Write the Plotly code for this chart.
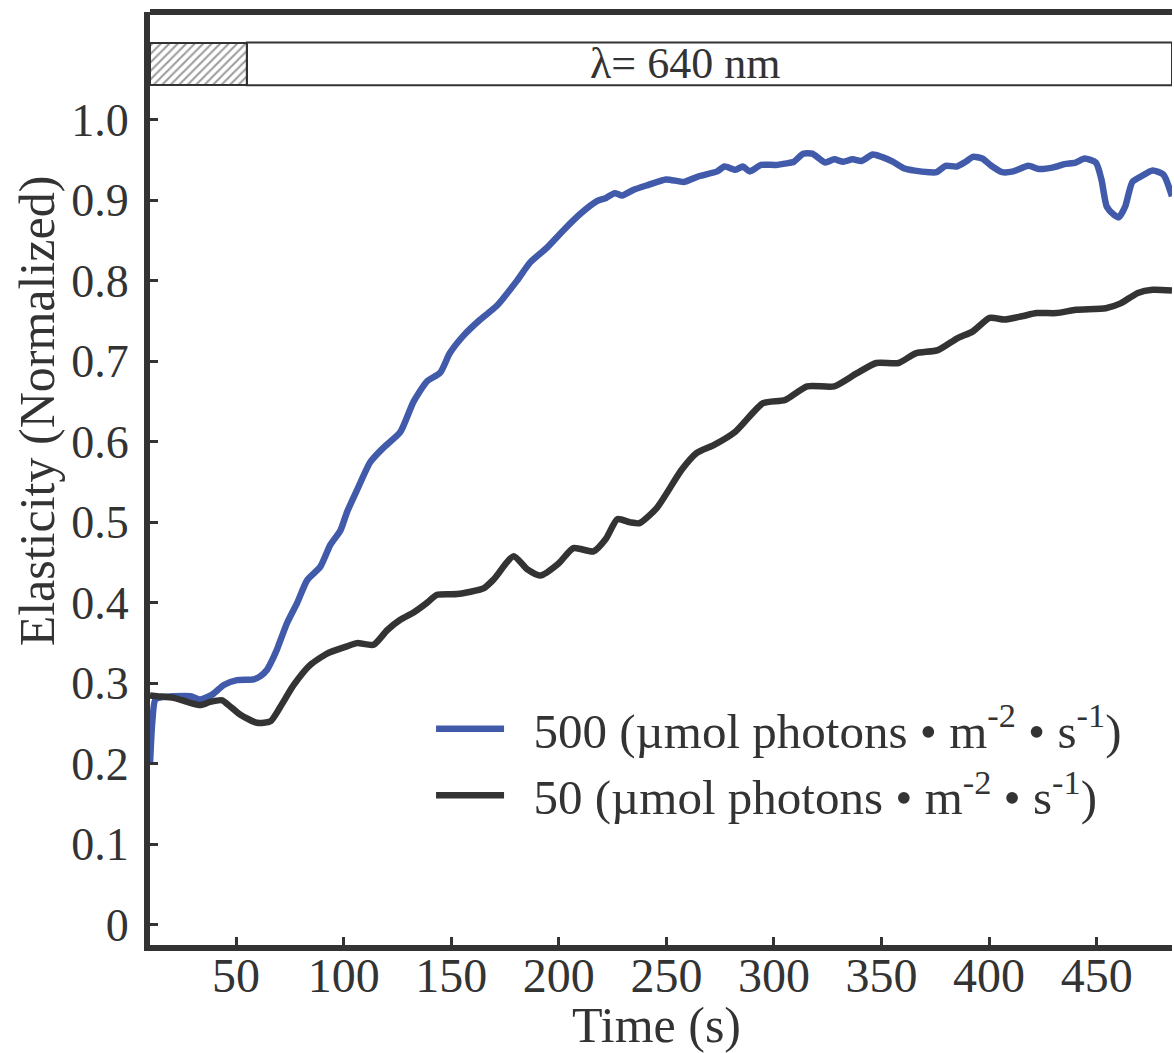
import plotly.graph_objects as go

# ---------------- data ----------------
t500 = [
    10, 11, 12.5, 16, 21, 28.8, 33.4, 38.9, 44.3, 50.5,
    58.2, 61.3, 64.4, 67.5, 69, 73.7, 78.4, 83, 89.2, 93.8,
    98.5, 101.6, 106.2, 112.4, 118.6, 126.3, 132.5, 138.7, 144.9, 149.3,
    155.7, 163.5, 171.2, 180.5, 186.7, 194.4, 202.2, 209.9, 217.7, 222,
    226, 229.4, 234.6, 241.3, 249.8, 258.3, 265.1, 273.6, 277, 282.1,
    285.5, 288.8, 294, 300.8, 305.9, 309.3, 313.6, 317.8, 323.8, 328,
    332.2, 336.5, 340.7, 345.9, 350.1, 355.2, 360.3, 365.4, 372.2, 375.5,
    379.8, 384.9, 389.1, 392.5, 396.8, 401, 406.1, 411.2, 418.2, 423.1,
    429.9, 435, 440.2, 444.4, 449.6, 452.2, 454.7, 458.1, 460.3, 463.2,
    466.6, 470.8, 476, 481, 485,
]
v500 = [
    0.20, 0.25, 0.28, 0.283, 0.284, 0.284, 0.280, 0.286, 0.298, 0.304,
    0.305, 0.309, 0.317, 0.333, 0.342, 0.375, 0.40, 0.428, 0.445, 0.472,
    0.49, 0.513, 0.54, 0.575, 0.593, 0.612, 0.65, 0.675, 0.686, 0.71,
    0.732, 0.752, 0.769, 0.80, 0.823, 0.841, 0.863, 0.883, 0.899, 0.903,
    0.909, 0.906, 0.913, 0.919, 0.926, 0.923, 0.93, 0.936, 0.942, 0.938,
    0.942, 0.936, 0.944, 0.944, 0.946, 0.948, 0.958, 0.958, 0.947, 0.951,
    0.948, 0.951, 0.949, 0.957, 0.954, 0.948, 0.94, 0.937, 0.935, 0.935,
    0.943, 0.942, 0.948, 0.954, 0.952, 0.943, 0.935, 0.936, 0.943, 0.939,
    0.941, 0.945, 0.947, 0.952, 0.947, 0.926, 0.892, 0.882, 0.879, 0.892,
    0.923, 0.930, 0.937, 0.932, 0.905,
]
t50 = [
    10, 13.3, 21, 27.3, 33.4, 38, 43.5, 47.4, 52, 59.8,
    66, 70.6, 76.8, 84.5, 92.3, 101.6, 106.2, 113.9, 120.2, 126.3,
    132.5, 138.7, 143.4, 152.7, 165, 169.7, 179, 185.2, 191.4, 199.9,
    206.8, 216.1, 222, 227.2, 233.2, 237.5, 245.6, 257, 264, 272,
    282.2, 294.9, 305.2, 315.4, 328, 338.4, 347.6, 357.9, 365.9, 376.2,
    385.4, 392.3, 400.3, 407.2, 415.2, 422.1, 431.3, 440.4, 454.2, 461.1,
    469.1, 476, 485,
]
v50 = [
    0.285, 0.284, 0.282, 0.277, 0.273, 0.277, 0.279, 0.271, 0.261, 0.251,
    0.253, 0.271, 0.298, 0.323, 0.337, 0.346, 0.350, 0.348, 0.366, 0.379,
    0.388, 0.40, 0.41, 0.411, 0.418, 0.429, 0.458, 0.442, 0.434, 0.449,
    0.468, 0.464, 0.48, 0.504, 0.50, 0.499, 0.518, 0.565, 0.586, 0.596,
    0.613, 0.648, 0.652, 0.669, 0.669, 0.685, 0.698, 0.698, 0.71, 0.714,
    0.729, 0.737, 0.754, 0.752, 0.756, 0.76, 0.76, 0.764, 0.766, 0.772,
    0.785, 0.789, 0.788,
]
series_names = [
    "500 (\u00b5mol photons \u2022 m<sup>-2</sup> \u2022 s<sup>-1</sup>)",
    "50 (\u00b5mol photons \u2022 m<sup>-2</sup> \u2022 s<sup>-1</sup>)",
]
x_tickvals = [50, 100, 150, 200, 250, 300, 350, 400, 450]
y_tickvals = [0, 0.1, 0.2, 0.3, 0.4, 0.5, 0.6, 0.7, 0.8, 0.9, 1.0]
y_ticktext = ["0", "0.1", "0.2", "0.3", "0.4", "0.5", "0.6", "0.7", "0.8", "0.9", "1.0"]
x_title = "Time (s)"
y_title = "Elasticity (Normalized)"
dark_period = [10, 55]        # hatched (dark) interval, s
light_period = [55, 485]      # illuminated interval, s
light_label = "\u03bb= 640 nm"

# ---------------- styling ----------------
FONT = "Liberation Serif, Times New Roman, serif"
INK = "#333333"
BLUE = "#415AAA"
X_RANGE = [10, 485]
Y_RANGE = [-0.025, 1.134]
BAR_Y = [1.043, 1.096]
NB = "\u00a0\u00a0"

fig = go.Figure()

# hatched dark-period bar
fig.add_trace(go.Bar(
    x=[(dark_period[0] + dark_period[1]) / 2], y=[BAR_Y[1] - BAR_Y[0]], base=[BAR_Y[0]],
    width=[dark_period[1] - dark_period[0]],
    marker=dict(color="white", line=dict(color=INK, width=2),
                pattern=dict(shape="/", fgcolor="#3a3a3a", bgcolor="white", size=6, solidity=0.35)),
    showlegend=False, hoverinfo="skip",
))

fig.add_trace(go.Scatter(
    x=t500, y=v500, mode="lines", name=NB + series_names[0], legendgroup="a",
    line=dict(color=BLUE, width=6.5, shape="spline", smoothing=0.6),
))
fig.add_trace(go.Scatter(
    x=t50, y=v50, mode="lines", name=NB + series_names[1], legendgroup="b",
    line=dict(color=INK, width=6.5, shape="spline", smoothing=0.6),
))

# light-period box
fig.add_shape(type="rect", xref="x", yref="y",
              x0=light_period[0], x1=light_period[1], y0=BAR_Y[0], y1=BAR_Y[1],
              line=dict(color=INK, width=2), fillcolor="rgba(0,0,0,0)", layer="above")
fig.add_annotation(x=258.7, y=(BAR_Y[0] + BAR_Y[1]) / 2, xref="x", yref="y",
                   text=light_label, showarrow=False,
                   font=dict(family=FONT, size=44, color=INK))
# top frame line
fig.add_shape(type="line", xref="paper", yref="paper", x0=0, x1=1, y0=1, y1=1,
              line=dict(color=INK, width=6), layer="above")

# axis titles
fig.add_annotation(x=0.496, y=-0.0857, xref="paper", yref="paper", text=x_title,
                   showarrow=False, xanchor="center", yanchor="middle",
                   font=dict(family=FONT, size=50, color=INK))
fig.add_annotation(x=-0.1106, y=0.573, xref="paper", yref="paper", text=y_title,
                   showarrow=False, xanchor="center", yanchor="middle", textangle=-90,
                   font=dict(family=FONT, size=50, color=INK))

fig.update_layout(
    width=1174, height=1053,
    margin=dict(l=150, r=2, t=12, b=108, autoexpand=False),
    plot_bgcolor="white", paper_bgcolor="white",
    font=dict(family=FONT, color=INK),
    showlegend=True,
    legend=dict(x=0.275, y=0.273, xanchor="left", yanchor="top",
                font=dict(family=FONT, size=49, color=INK),
                bgcolor="rgba(0,0,0,0)", itemwidth=68, tracegroupgap=0),
    xaxis=dict(range=X_RANGE, tickvals=x_tickvals, ticks="inside", ticklen=8, tickwidth=3,
               tickcolor=INK, showline=True, linewidth=6, linecolor=INK, showgrid=False,
               zeroline=False, automargin=False, ticklabelstandoff=-17,
               tickfont=dict(family=FONT, size=48, color=INK)),
    yaxis=dict(range=Y_RANGE, tickvals=y_tickvals, ticktext=y_ticktext, ticks="inside",
               ticklen=8, tickwidth=3, tickcolor=INK, showline=True, linewidth=6,
               linecolor=INK, showgrid=False, zeroline=False, automargin=False,
               ticklabelstandoff=6,
               tickfont=dict(family=FONT, size=46, color=INK)),
    yaxis2=dict(range=Y_RANGE, overlaying="y", side="right", tickvals=y_tickvals,
                showticklabels=False, ticks="inside", ticklen=8, tickwidth=3, tickcolor=INK,
                showline=True, linewidth=2, linecolor="#555555", showgrid=False,
                zeroline=False, automargin=False),
    bargap=0,
)

# remove the default 8px page margin so the 1174x1053 figure fills the window exactly
fig.write_html("out.html",
               config={"displayModeBar": False},
               post_script="document.body.style.margin='0';document.body.style.overflow='hidden';")
